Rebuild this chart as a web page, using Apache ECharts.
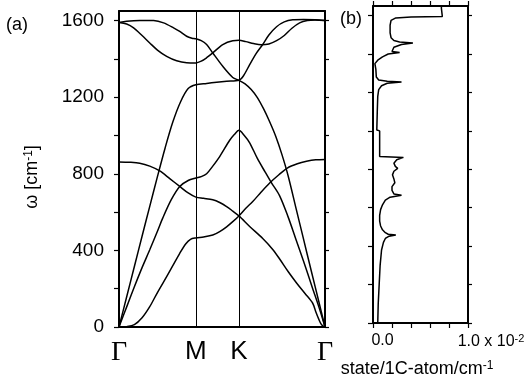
<!DOCTYPE html>
<html><head><meta charset="utf-8">
<script src="https://cdn.jsdelivr.net/npm/echarts@6/dist/echarts.min.js"></script>
<style>html,body{margin:0;padding:0;background:#fff}#c{width:528px;height:382px}</style>
</head><body><div id="c"></div>
<script>
// High-symmetry path (distance along Γ-M-K-Γ) and labels
const kPos = [0, 1.0, 1.56, 2.68];
const kLabels = ['Γ', 'M', 'K', 'Γ'];
const omegaLabels = [0, 400, 800, 1200, 1600];
const omegaTicks = [0, 200, 400, 600, 800, 1000, 1200, 1400, 1600];
const dosTicks = [0, 0.2, 0.4, 0.6, 0.8, 1.0];
const dosLabelValues = [0, 1.0];

// Phonon branches: [path distance, ω (cm^-1)]
const branchZA = [[0,0],[0.1,2],[0.2,12],[0.3,48],[0.4,106],[0.5,180],[0.62,263],[0.7,320],[0.79,385],[0.87,435],[0.93,458],[1.0,465],[1.1,470],[1.22,480],[1.31,498],[1.4,523],[1.48,550],[1.56,580],[1.65,620],[1.74,655],[1.85,705],[1.96,752],[2.08,795],[2.19,830],[2.32,852],[2.44,865],[2.56,873],[2.68,875]];
const branchZO = [[0,862],[0.14,860],[0.27,855],[0.4,840],[0.53,815],[0.66,775],[0.79,734],[0.9,700],[1.0,678],[1.1,672],[1.22,664],[1.31,650],[1.4,629],[1.48,605],[1.56,580],[1.7,525],[1.87,462],[2.0,405],[2.09,355],[2.2,290],[2.31,230],[2.42,175],[2.52,124],[2.56,80],[2.6,40],[2.63,15],[2.66,3],[2.68,0]];
const branchTA = [[0,0],[0.1,105],[0.2,210],[0.3,310],[0.4,403],[0.5,500],[0.57,570],[0.68,665],[0.79,734],[0.9,765],[1.0,778],[1.07,785],[1.14,800],[1.22,840],[1.31,890],[1.44,975],[1.5,1005],[1.56,1027],[1.63,1000],[1.7,962],[1.8,880],[1.9,810],[1.98,755],[2.09,685],[2.2,575],[2.3,460],[2.4,345],[2.52,200],[2.6,105],[2.68,0]];
const branchLA = [[0,0],[0.1,158],[0.2,316],[0.3,474],[0.4,630],[0.5,785],[0.6,935],[0.7,1070],[0.8,1175],[0.9,1245],[1.0,1265],[1.14,1272],[1.27,1278],[1.4,1283],[1.56,1288],[1.62,1312],[1.7,1370],[1.79,1431],[1.87,1475],[1.95,1525],[2.05,1568],[2.15,1593],[2.26,1604],[2.4,1606],[2.55,1604],[2.68,1600]];
const branchLO = [[0,1590],[0.1,1597],[0.27,1601],[0.45,1600],[0.58,1588],[0.71,1562],[0.79,1543],[0.88,1518],[0.95,1508],[1.0,1505],[1.07,1495],[1.14,1475],[1.22,1431],[1.35,1361],[1.48,1303],[1.56,1288],[1.64,1270],[1.72,1240],[1.8,1198],[1.88,1140],[1.96,1072],[2.04,995],[2.12,900],[2.2,790],[2.3,625],[2.4,460],[2.5,295],[2.6,132],[2.68,0]];
const branchTO = [[0,1590],[0.1,1582],[0.19,1562],[0.3,1522],[0.4,1483],[0.5,1446],[0.62,1413],[0.75,1390],[0.88,1380],[1.0,1379],[1.07,1388],[1.14,1406],[1.22,1431],[1.35,1475],[1.48,1495],[1.56,1497],[1.65,1490],[1.75,1480],[1.85,1474],[1.95,1478],[2.05,1495],[2.15,1522],[2.25,1560],[2.35,1588],[2.45,1600],[2.55,1603],[2.68,1600]];

// Phonon density of states (×10^-2 state/1C-atom/cm^-1) vs ω
const dosOmega = [0,100,200,300,380,420,440,452,458,462,470,485,505,530,560,590,615,640,655,665,672,690,710,730,738,750,771,790,805,815,832,850,862,866,866,1000,1005,1100,1180,1215,1235,1248,1254,1258,1265,1280,1320,1350,1360,1368,1385,1400,1408,1413,1420,1435,1450,1457,1463,1470,1485,1510,1550,1575,1588,1593,1595,1638,1650];
const dosValue = [0.05,0.055,0.065,0.075,0.09,0.11,0.13,0.17,0.24,0.16,0.13,0.10,0.08,0.07,0.07,0.08,0.10,0.13,0.18,0.30,0.22,0.20,0.20,0.23,0.25,0.22,0.205,0.22,0.26,0.235,0.22,0.25,0.32,0.34,0.07,0.07,0.04,0.045,0.05,0.06,0.09,0.15,0.30,0.15,0.06,0.035,0.03,0.02,0.01,0.05,0.10,0.16,0.28,0.20,0.18,0.22,0.30,0.42,0.28,0.22,0.19,0.18,0.18,0.19,0.24,0.40,0.73,0.72,0.72];

const BLACK = '#000';
const SANS = '"Liberation Sans", Arial, sans-serif';
const frame = {show:true, onZero:false, lineStyle:{color:BLACK, width:2}};
const tickOut = (vals, len) => ({show:true, inside:false, length:len, customValues:vals, lineStyle:{color:BLACK, width:1.2}});

const chart = echarts.init(document.getElementById('c'), null, {renderer:'canvas'});
const branches = [branchZA, branchZO, branchTA, branchLA, branchLO, branchTO];
const series = branches.map(b => ({
  type:'line', xAxisIndex:0, yAxisIndex:0, data:b, showSymbol:false, smooth:0.3,
  lineStyle:{color:BLACK, width:1.5}, silent:true, animation:false
}));
series[0].markLine = {
  symbol:'none', silent:true, animation:false, label:{show:false},
  lineStyle:{color:BLACK, width:1, type:'solid'},
  data:[{xAxis:kPos[1]},{xAxis:kPos[2]}]
};
series.push({
  type:'line', xAxisIndex:2, yAxisIndex:2,
  data: dosOmega.map((w,i)=>[dosValue[i], w]),
  showSymbol:false, smooth:false, lineStyle:{color:BLACK, width:1.5}, silent:true, animation:false
});

chart.setOption({
  animation:false,
  backgroundColor:'#fff',
  grid:[
    {left:119, top:11, width:206, height:316, containLabel:false, outerBoundsMode:'none'},
    {left:373, top:6, width:95, height:317, containLabel:false, outerBoundsMode:'none'}
  ],
  xAxis:[
    {gridIndex:0, type:'value', position:'bottom', min:kPos[0], max:kPos[3], axisLine:frame,
     axisTick:{show:false}, splitLine:{show:false},
     axisLabel:{show:true, customValues:kPos, margin:12, color:BLACK,
       formatter:(v)=>{ const i = kPos.findIndex(p=>Math.abs(p-v)<1e-6); const t = kLabels[i]; return t==='Γ' ? '{g|'+t+'}' : '{s|'+t+'}'; },
       rich:{g:{fontFamily:'"Liberation Serif", serif', fontSize:28, color:BLACK}, s:{fontFamily:SANS, fontSize:26, color:BLACK}}}},
    {gridIndex:0, type:'value', position:'top', min:kPos[0], max:kPos[3], axisLine:frame,
     axisTick:{show:false}, axisLabel:{show:false}, splitLine:{show:false}},
    {gridIndex:1, type:'value', position:'bottom', min:0, max:1.0, axisLine:frame,
     axisTick:tickOut(dosTicks,5), splitLine:{show:false},
     axisLabel:{show:true, customValues:dosLabelValues, margin:10, color:BLACK,
       formatter:(v)=> v===0 ? '{z|0.0}' : '{a|1.0 x 10}{p|-2}',
       rich:{z:{fontFamily:SANS, fontSize:16, color:BLACK, padding:[0,0,0,19]},
             a:{fontFamily:SANS, fontSize:16, color:BLACK, padding:[0,0,0,46], verticalAlign:'bottom'},
             p:{fontFamily:SANS, fontSize:11, color:BLACK, verticalAlign:'top', padding:[0,0,6,0]}}}},
    {gridIndex:1, type:'value', position:'top', min:0, max:1.0, axisLine:frame,
     axisTick:tickOut(dosTicks,5), axisLabel:{show:false}, splitLine:{show:false}}
  ],
  yAxis:[
    {gridIndex:0, type:'value', position:'left', min:0, max:1650, axisLine:frame,
     axisTick:tickOut(omegaTicks,5), splitLine:{show:false},
     axisLabel:{show:true, customValues:omegaLabels, margin:15, color:BLACK, fontFamily:SANS, fontSize:19,
       formatter:(v)=>String(v)}},
    {gridIndex:0, type:'value', position:'right', min:0, max:1650, axisLine:frame,
     axisTick:tickOut(omegaTicks,4), axisLabel:{show:false}, splitLine:{show:false}},
    {gridIndex:1, type:'value', position:'left', min:0, max:1650, axisLine:frame,
     axisTick:tickOut(omegaTicks,5), axisLabel:{show:false}, splitLine:{show:false}},
    {gridIndex:1, type:'value', position:'right', min:0, max:1650, axisLine:frame,
     axisTick:tickOut(omegaTicks,4), axisLabel:{show:false}, splitLine:{show:false}}
  ],
  graphic:[
    {type:'text', style:{x:17, y:25, text:'(a)', fill:BLACK, font:'18px '+SANS, textAlign:'center', textVerticalAlign:'middle'}},
    {type:'text', style:{x:351, y:19, text:'(b)', fill:BLACK, font:'18px '+SANS, textAlign:'center', textVerticalAlign:'middle'}},
    {type:'text', x:32, y:177, rotation:Math.PI/2,
     style:{text:'{a|ω [cm}{p|-1}{a|]}', textAlign:'center', textVerticalAlign:'middle',
       rich:{a:{fontFamily:SANS, fontSize:18, fill:BLACK, color:BLACK, verticalAlign:'bottom'},
             p:{fontFamily:SANS, fontSize:12, fill:BLACK, color:BLACK, verticalAlign:'top', padding:[0,0,6,0]}}}},
    {type:'text', x:417, y:369,
     style:{text:'{a|state/1C-atom/cm}{p|-1}', textAlign:'center', textVerticalAlign:'middle',
       rich:{a:{fontFamily:SANS, fontSize:18, fill:BLACK, color:BLACK, verticalAlign:'bottom'},
             p:{fontFamily:SANS, fontSize:12, fill:BLACK, color:BLACK, verticalAlign:'top', padding:[0,0,6,0]}}}}
  ],
  series: series
});
</script></body></html>
